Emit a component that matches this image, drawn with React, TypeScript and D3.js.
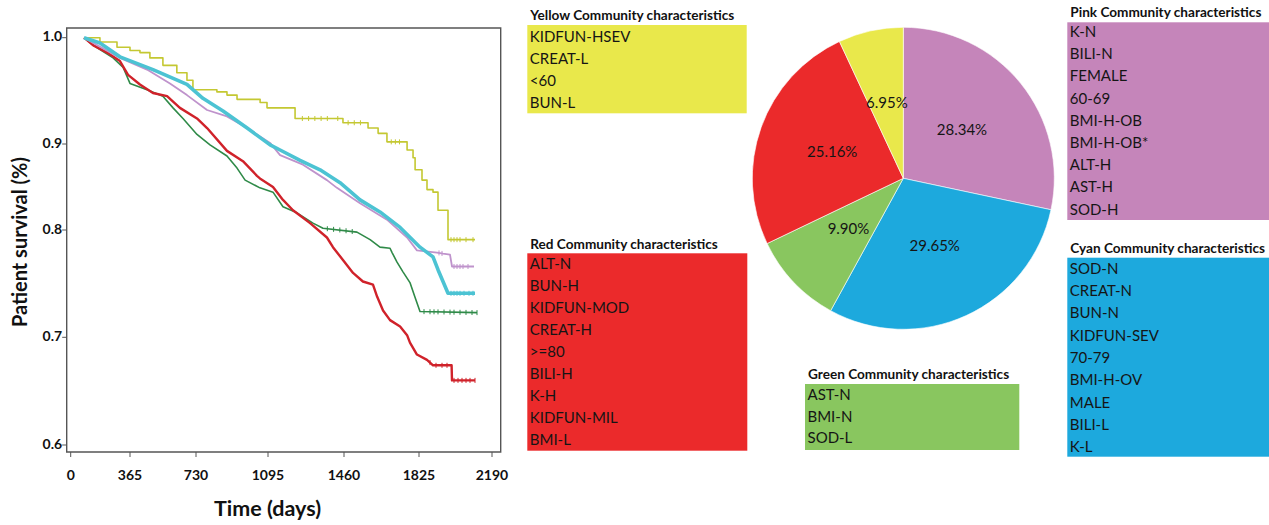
import React from 'react';
import * as d3 from 'd3';

type Pt = [number, number];

// Kaplan-Meier curves: [time (days), survival]
const yellowCurve: Pt[] = [
  [82, 1.0], [180, 0.996], [285, 0.991], [365, 0.988], [420, 0.986], [475, 0.981], [547, 0.974],
  [624, 0.967], [680, 0.96], [713, 0.951], [836, 0.949], [887, 0.946], [938, 0.942], [1055, 0.939],
  [1090, 0.934], [1225, 0.924], [1455, 0.92], [1577, 0.915], [1626, 0.91], [1669, 0.902],
  [1767, 0.893], [1796, 0.884], [1806, 0.87], [1840, 0.858], [1865, 0.847], [1895, 0.844],
  [1920, 0.823], [1970, 0.791], [2105, 0.791],
];
const pinkCurve: Pt[] = [
  [82, 1.0], [303, 0.981], [459, 0.97], [586, 0.957], [680, 0.946], [786, 0.932], [887, 0.926],
  [989, 0.915], [1105, 0.901], [1153, 0.887], [1263, 0.876], [1378, 0.858], [1426, 0.849],
  [1538, 0.831], [1669, 0.812], [1767, 0.793], [1815, 0.781], [1915, 0.779], [1945, 0.778],
  [1980, 0.777], [1990, 0.766], [2100, 0.766],
];
const cyanCurve: Pt[] = [
  [82, 1.0], [180, 0.995], [303, 0.982], [492, 0.97], [680, 0.956], [765, 0.943], [867, 0.931],
  [989, 0.915], [1105, 0.899], [1153, 0.893], [1249, 0.881], [1345, 0.87], [1441, 0.855],
  [1538, 0.835], [1635, 0.821], [1733, 0.803], [1830, 0.784], [1895, 0.775], [1920, 0.763],
  [1945, 0.752], [1970, 0.741], [2105, 0.741],
];
const redCurve: Pt[] = [
  [82, 1.0], [137, 0.993], [224, 0.986], [303, 0.978], [353, 0.965], [420, 0.956], [492, 0.948],
  [570, 0.945], [641, 0.934], [735, 0.924], [786, 0.915], [887, 0.892], [968, 0.88], [1039, 0.863],
  [1054, 0.86], [1119, 0.85], [1167, 0.835], [1215, 0.823], [1297, 0.808], [1378, 0.793],
  [1407, 0.784], [1455, 0.772], [1504, 0.76], [1552, 0.752], [1601, 0.749], [1621, 0.738],
  [1650, 0.725], [1684, 0.716], [1733, 0.71], [1767, 0.702], [1781, 0.695], [1815, 0.684],
  [1865, 0.679], [1895, 0.674], [1988, 0.674], [1990, 0.66], [2105, 0.66],
];
const greenCurve: Pt[] = [
  [82, 1.0], [137, 0.993], [261, 0.981], [323, 0.972], [365, 0.957], [459, 0.951], [547, 0.945],
  [603, 0.934], [658, 0.924], [735, 0.909], [801, 0.899], [887, 0.886], [938, 0.872], [979, 0.858],
  [1054, 0.849], [1119, 0.844], [1167, 0.827], [1234, 0.82], [1311, 0.808], [1359, 0.802],
  [1523, 0.798], [1587, 0.791], [1635, 0.784], [1684, 0.783], [1694, 0.779], [1718, 0.77],
  [1747, 0.761], [1781, 0.751], [1806, 0.737], [1830, 0.724], [2115, 0.723],
];

// censoring marks (days)
const yellowCensor = [1260, 1290, 1320, 1350, 1380, 1430, 1480, 1510, 1540, 1690, 1710, 1730, 1985, 2000, 2015, 2030, 2060, 2095];
const pinkCensor = [1925, 1940, 2000, 2015, 2030, 2045, 2070];
const cyanCensor = [1985, 2000, 2015, 2030, 2050, 2075, 2095];
const greenCensor = [1380, 1410, 1440, 1470, 1500, 1850, 1880, 1900, 1920, 1950, 1980, 2000, 2030, 2060, 2090, 2115];
const redCensor = [1880, 1910, 1940, 1965, 2000, 2020, 2040, 2060, 2080, 2105];

const xTickValues = [0, 365, 730, 1095, 1460, 1825, 2190];
const yTickValues = [0.6, 0.7, 0.8, 0.9, 1.0];

// pie
const pieNames = ['Pink', 'Cyan', 'Green', 'Red', 'Yellow'];
const pieShares = [28.34, 29.65, 9.9, 25.16, 6.95];

// community characteristics
const yellowTraits = ['KIDFUN-HSEV', 'CREAT-L', '<60', 'BUN-L'];
const redTraits = ['ALT-N', 'BUN-H', 'KIDFUN-MOD', 'CREAT-H', '>=80', 'BILI-H', 'K-H', 'KIDFUN-MIL', 'BMI-L'];
const pinkTraits = ['K-N', 'BILI-N', 'FEMALE', '60-69', 'BMI-H-OB', 'BMI-H-OB*', 'ALT-H', 'AST-H', 'SOD-H'];
const cyanTraits = ['SOD-N', 'CREAT-N', 'BUN-N', 'KIDFUN-SEV', '70-79', 'BMI-H-OV', 'MALE', 'BILI-L', 'K-L'];
const greenTraits = ['AST-N', 'BMI-N', 'SOD-L'];

const FONT = 'Lato, "Open Sans", sans-serif';

function valueAt(curve: Pt[], t: number, step: boolean): number {
  const i = d3.bisector((d: Pt) => d[0]).right(curve, t) - 1;
  if (i < 0) return curve[0][1];
  if (i >= curve.length - 1 || step) return curve[Math.min(i, curve.length - 1)][1];
  const a = curve[i], b = curve[i + 1];
  return a[1] + (b[1] - a[1]) * (t - a[0]) / (b[0] - a[0]);
}

function Box(props: { x: number; y: number; w: number; h: number; color: string; title: string; titleY: number; items: string[]; firstY: number; step: number; }) {
  const { x, y, w, h, color, title, titleY, items, firstY, step } = props;
  return (
    <g fontFamily={FONT}>
      <text x={x + 3} y={titleY} fontSize={13.6} fontWeight="bold" fill="#111" dominantBaseline="middle">{title}</text>
      <rect x={x} y={y} width={w} height={h} fill={color} />
      {items.map((t, i) => (
        <text key={t} x={x + 2.5} y={firstY + i * step} fontSize={15} fill="#151515" dominantBaseline="middle">{t}</text>
      ))}
    </g>
  );
}

export default function App() {
  const W = 1269, H = 525;
  const frame = { l: 66.7, t: 28, r: 500.7, b: 452 };
  const x = d3.scaleLinear().domain(xTickValues).range([70.7, 130, 196, 268, 344, 419, 492]);
  const y = d3.scaleLinear().domain(yTickValues).range([445, 337.3, 230, 144, 37.7]);
  const lin = d3.line<Pt>().x(d => x(d[0])).y(d => y(d[1]));
  const stp = d3.line<Pt>().x(d => x(d[0])).y(d => y(d[1])).curve(d3.curveStepAfter);

  const series = [
    { curve: greenCurve, color: '#2f8a48', width: 1.6, step: false, censor: greenCensor },
    { curve: redCurve, color: '#d0222a', width: 2.4, step: false, censor: redCensor },
    { curve: yellowCurve, color: '#c4c832', width: 1.6, step: true, censor: yellowCensor },
    { curve: pinkCurve, color: '#bf93cc', width: 1.8, step: false, censor: pinkCensor },
    { curve: cyanCurve, color: '#4cc3d3', width: 3.6, step: false, censor: cyanCensor },
  ];

  const pieColors: Record<string, string> = { Pink: '#c585ba', Cyan: '#1da9dd', Green: '#89c65f', Red: '#eb2a2b', Yellow: '#e9e84b' };
  const cx = 903.3, cy = 178.3, R = 151;
  const arcs = d3.pie<number>().sort(null).value(d => d)(pieShares);
  const arc = d3.arc<d3.PieArcDatum<number>>().innerRadius(0).outerRadius(R);

  return (
    <svg width={W} height={H} style={{ position: 'absolute', left: 0, top: 0, background: '#fff' }}>
      {/* survival plot */}
      <g>
        <path d={`M${frame.l},${frame.b}V${frame.t}H${frame.r}V${frame.b}Z`} fill="none" stroke="#555" strokeWidth={1.4} />
        {series.map((s, i) => (
          <g key={i}>
            <path d={(s.step ? stp : lin)(s.curve) || ''} fill="none" stroke={s.color} strokeWidth={s.width} strokeLinejoin="round" />
            {s.censor.map((t, j) => {
              const yy = y(valueAt(s.curve, t, s.step));
              return <line key={j} x1={x(t)} x2={x(t)} y1={yy - 2.5} y2={yy + 2.5} stroke={s.color} strokeWidth={1} />;
            })}
          </g>
        ))}
        {yTickValues.map(v => (
          <g key={v}>
            <line x1={frame.l - 4.5} x2={frame.l} y1={y(v)} y2={y(v)} stroke="#555" strokeWidth={1} />
            <text x={frame.l - 4.5} y={y(v)} textAnchor="end" dominantBaseline="middle" fontFamily={FONT} fontWeight="bold" fontSize={14} fill="#111">{v.toFixed(1)}</text>
          </g>
        ))}
        {xTickValues.map(v => (
          <g key={v}>
            <line x1={x(v)} x2={x(v)} y1={frame.b} y2={frame.b + 5} stroke="#555" strokeWidth={1} />
            <text x={x(v)} y={476.7} textAnchor="middle" dominantBaseline="middle" fontFamily={FONT} fontWeight="bold" fontSize={14} fill="#111">{v}</text>
          </g>
        ))}
        <text x={267.5} y={510} textAnchor="middle" dominantBaseline="middle" fontFamily={FONT} fontWeight="bold" fontSize={21.5} fill="#111">Time (days)</text>
        <text transform="translate(22,242) rotate(-90)" textAnchor="middle" dominantBaseline="middle" fontFamily={FONT} fontWeight="bold" fontSize={20} fill="#111">Patient survival (%)</text>
      </g>

      {/* pie */}
      <g transform={`translate(${cx},${cy})`}>
        {arcs.map((a, i) => (
          <path key={i} d={arc(a) || ''} fill={pieColors[pieNames[i]]} stroke="#fff" strokeWidth={0.6} />
        ))}
        {arcs.map((a, i) => {
          const [lx, ly] = arc.centroid(a);
          return (
            <text key={'l' + i} x={lx} y={ly} textAnchor="middle" dominantBaseline="middle" fontFamily={FONT} fontSize={15} fill="#151515">
              {pieShares[i].toFixed(2) + '%'}
            </text>
          );
        })}
      </g>

      {/* characteristics boxes */}
      <Box x={527.3} y={25} w={219.4} h={88.3} color="#e9e84b" title="Yellow Community characteristics" titleY={17} items={yellowTraits} firstY={38.3} step={22} />
      <Box x={527.3} y={253.3} w={220} h={197.4} color="#eb2a2b" title="Red Community characteristics" titleY={246} items={redTraits} firstY={265} step={22} />
      <Box x={1067.3} y={22.3} w={202} h={197.7} color="#c585ba" title="Pink Community characteristics" titleY={14} items={pinkTraits} firstY={33.3} step={22.2} />
      <Box x={1067.3} y={257.7} w={202} h={199} color="#1da9dd" title="Cyan Community characteristics" titleY={250} items={cyanTraits} firstY={270} step={22.3} />
      <Box x={805} y={384} w={214.3} h={66} color="#89c65f" title="Green Community characteristics" titleY={376} items={greenTraits} firstY={396.7} step={21.3} />
    </svg>
  );
}
